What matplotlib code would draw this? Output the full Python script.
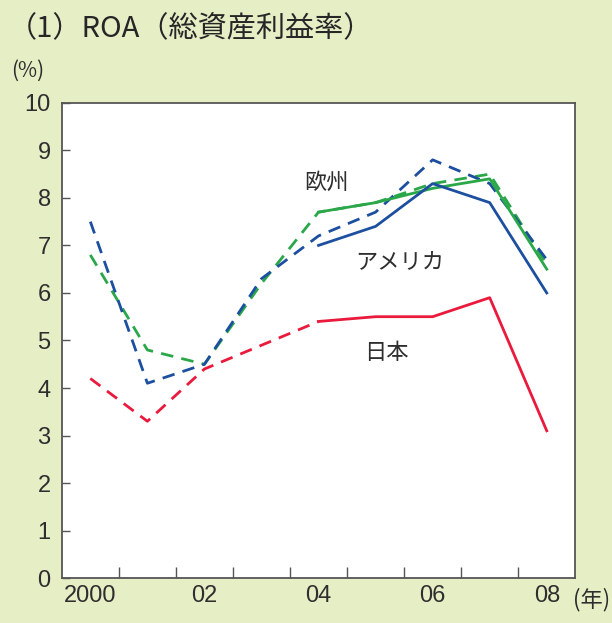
import matplotlib
matplotlib.use("Agg")
import matplotlib.pyplot as plt
from matplotlib.ticker import FixedLocator

plt.rcParams['font.family'] = ['Noto Sans CJK JP', 'DejaVu Sans']

# Données (ROA, %)
years_all = [2000, 2001, 2002, 2003, 2004, 2005, 2006, 2007, 2008]
years_new = [2004, 2005, 2006, 2007, 2008]
years_jp_old = [2000, 2001, 2002, 2003, 2004]

jp_old = [4.2, 3.3, 4.4, 4.9, 5.4]
jp_new = [5.4, 5.5, 5.5, 5.9, 3.1]
us_old = [7.5, 4.1, 4.5, 6.3, 7.2, 7.7, 8.8, 8.3, 6.7]
us_new = [7.0, 7.4, 8.3, 7.9, 6.0]
eu_old = [6.8, 4.8, 4.5, 6.2, 7.7, 7.9, 8.3, 8.5, 6.6]
eu_new = [7.7, 7.9, 8.2, 8.4, 6.5]

xtick_pos = [2000, 2002, 2004, 2006, 2008]
xtick_labels = ["2000", "02", "04", "06", "08"]
yticks = list(range(0, 11))

blue = '#1c4f9f'
green = '#2aa748'
red = '#ea1a3c'
bg = '#e6eec6'
frame = '#555555'
txt = '#2e2e2e'

fig = plt.figure(figsize=(6.12, 6.23), dpi=100, facecolor=bg)
ax = fig.add_axes([0.101, 0.072, 0.839, 0.763])
ax.set_facecolor('white')

dash = (0, (4.5, 3))
lw = 2.0
ax.plot(years_all, eu_old, color=green, lw=lw, linestyle=dash)
ax.plot(years_all, us_old, color=blue, lw=lw, linestyle=dash)
ax.plot(years_jp_old, jp_old, color=red, lw=lw, linestyle=dash)
ax.plot(years_new, eu_new, color=green, lw=lw)
ax.plot(years_new, us_new, color=blue, lw=lw)
ax.plot(years_new, jp_new, color=red, lw=lw)

ax.set_xlim(1999.5, 2008.5)
ax.set_ylim(0, 10)
ax.set_yticks(yticks)
ax.set_xticks(xtick_pos)
ax.set_xticklabels(xtick_labels)
ax.xaxis.set_minor_locator(FixedLocator([y + 0.5 for y in years_all[:-1]]))

ax.tick_params(axis='y', direction='in', length=6, width=1, color=frame,
               labelsize=17, labelcolor=txt, pad=8)
ax.tick_params(axis='x', which='major', length=0, labelsize=17,
               labelcolor=txt, pad=5)
ax.tick_params(axis='x', which='minor', direction='in', length=8, width=1,
               color=frame)
for lab in ax.get_xticklabels() + ax.get_yticklabels():
    lab.set_family(['Liberation Sans', 'DejaVu Sans'])
for s in ax.spines.values():
    s.set_color(frame)
    s.set_linewidth(1.3)

ax.text(2003.75, 8.2, "欧州", fontsize=16, color=txt)
ax.text(2004.65, 6.5, "アメリカ", fontsize=16, color=txt)
ax.text(2004.8, 4.6, "日本", fontsize=16, color=txt)

fig.text(0.013, 0.953, "（1）ROA（総資産利益率）", fontsize=21, color='#262626',
         va='center', ha='left')
fig.text(0.018, 0.886, "(%)", fontsize=15, color=txt, va='center')
fig.text(0.936, 0.037, "(年)", fontsize=16, color=txt, va='center', ha='left')

fig.savefig("out.png", dpi=100, facecolor=bg)
